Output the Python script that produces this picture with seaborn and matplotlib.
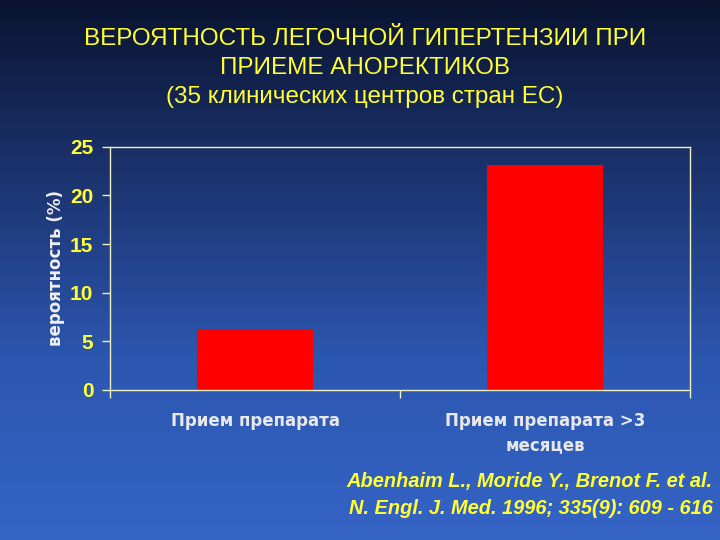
import numpy as np
import pandas as pd
import seaborn as sns
import matplotlib as mat

mat.use("Agg")

import matplotlib.pyplot as plt
from matplotlib.colors import LinearSegmentedColormap

categories = ["Прием препарата", "Прием препарата >3\nмесяцев"]
values = [6.3, 23.1]
y_ticks = [0, 5, 10, 15, 20, 25]

TITLE = "ВЕРОЯТНОСТЬ ЛЕГОЧНОЙ ГИПЕРТЕНЗИИ ПРИ\nПРИЕМЕ АНОРЕКТИКОВ\n(35 клинических центров стран ЕС)"
CITATION = "Abenhaim L., Moride Y., Brenot F. et al.\nN. Engl. J. Med. 1996; 335(9): 609 - 616"

YELLOW = "#ffff33"
LINE = "#f0f0c0"
WIDE = ["DejaVu Sans"]


def main() -> None:
    sns.set_theme(style="white")
    plt.rcParams["font.family"] = ["Liberation Sans", "DejaVu Sans"]

    fig = plt.figure(figsize=(7.2, 5.4), dpi=100)

    # фон слайда: градиент от тёмно-синего к синему
    bg = fig.add_axes([0, 0, 1, 1], zorder=-10)
    cmap = LinearSegmentedColormap.from_list(
        "slide", ["#0a1430", "#1c3470", "#2c57b0", "#3564c6"]
    )
    bg.imshow(np.linspace(0, 1, 256).reshape(-1, 1), aspect="auto", cmap=cmap,
              extent=[0, 1, 0, 1])
    bg.set_axis_off()

    ax = fig.add_axes([0.153, 0.278, 0.806, 0.45])
    ax.set_facecolor("none")

    df = pd.DataFrame({"cat": categories, "val": values})
    sns.barplot(data=df, x="cat", y="val", color="#ff0000", saturation=1,
                width=0.4, ax=ax)
    for p in ax.patches:
        p.set_edgecolor("none")

    ax.set_xlim(-0.5, 1.5)
    ax.set_ylim(0, 25)
    ax.set_yticks(y_ticks)
    ax.set_yticklabels([str(t) for t in y_ticks], color=YELLOW,
                       fontweight="bold", fontsize=15)
    ax.tick_params(axis="y", direction="out", length=6, color=LINE, width=1,
                   pad=6, left=True)

    ax.set_xticks([0, 1])
    ax.set_xticklabels(categories, color="#e8e8e8", fontweight="bold",
                       fontsize=12, linespacing=1.45, family=WIDE)
    ax.tick_params(axis="x", which="major", length=0, pad=16)
    ax.set_xticks([-0.5, 0.5, 1.5], minor=True)
    ax.tick_params(axis="x", which="minor", direction="out", length=6,
                   color=LINE, width=1, bottom=True)

    for side in ["left", "bottom", "top", "right"]:
        ax.spines[side].set_color(LINE)
        ax.spines[side].set_linewidth(1)

    ax.set_xlabel("")
    ax.set_ylabel("вероятность (%)", color="#f0f0f0", fontweight="bold",
                  fontsize=12, labelpad=4, family=WIDE)

    fig.text(0.507, 0.948, TITLE, ha="center", va="top", color=YELLOW,
             fontsize=17.5, linespacing=1.42)
    fig.text(0.99, 0.125, CITATION, ha="right", va="top", color=YELLOW,
             fontsize=14.4, fontweight="bold", fontstyle="italic",
             linespacing=1.5)

    fig.savefig("out.png", dpi=100)
    plt.close(fig)


if __name__ == "__main__":
    main()
